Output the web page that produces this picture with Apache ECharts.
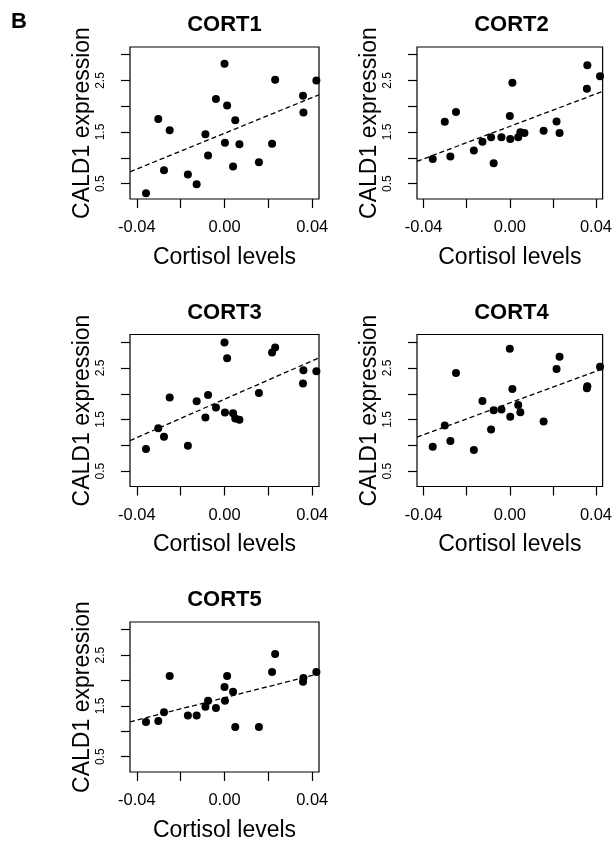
<!DOCTYPE html>
<html>
<head>
<meta charset="utf-8">
<script src="https://cdn.jsdelivr.net/npm/echarts@6/dist/echarts.min.js"></script>
<style>
html,body{margin:0;padding:0;background:#fff;}
#chart{width:615px;height:843px;}
</style>
</head>
<body>
<div id="chart"></div>
<script>
// Shared cortisol levels (x) for every panel
const cortisol = [-0.0358, -0.0302, -0.0276, -0.0250, -0.0167, -0.0127, -0.0087, -0.0075, -0.0039,
  0.0000, 0.0002, 0.0012, 0.0039, 0.0049, 0.0068, 0.0157, 0.0217, 0.0231, 0.0358, 0.0360, 0.0419];

// CALD1 expression per panel (null = point hidden behind another dot)
const cort1 = [0.313, 1.752, 0.758, 1.532, 0.674, 0.487, 1.455, 1.042, 2.139,
  2.823, 1.294, 2.016, 0.829, 1.726, 1.261, 0.913, 1.274, 2.513, 2.203, 1.881, 2.500];
const cort2 = [0.977, 1.700, 1.023, 1.887, 1.139, 1.313, 1.397, 0.894, 1.397,
  1.810, 1.365, 2.455, 1.397, 1.494, 1.480, 1.526, 1.706, 1.480, 2.339, 2.797, 2.584];
const cort3 = [0.926, 1.332, 1.165, 1.926, 0.990, 1.855, 1.539, 1.977, 1.732,
  2.997, 1.635, 2.687, 1.623, 1.519, 1.494, 2.016, 2.803, 2.900, 2.197, 2.455, 2.435];
const cort4 = [0.971, 1.384, 1.081, 2.403, 0.906, 1.861, 1.306, 1.681, 1.694,
  2.874, 1.552, 2.094, 1.784, 1.642, null, 1.461, 2.481, 2.719, 2.106, 2.145, 2.526];
const cort5 = [1.182, 1.201, 1.375, 2.088, 1.310, 1.310, 1.484, 1.600, 1.458,
  1.870, 1.600, 2.088, 1.780, 1.085, null, 1.085, 2.166, 2.519, 1.973, 2.050, 2.166];

const panelTitles = ['CORT1', 'CORT2', 'CORT3', 'CORT4', 'CORT5'];
const panelValues = [cort1, cort2, cort3, cort4, cort5];

const xTickValues = [-0.04, -0.02, 0, 0.02, 0.04];
const xLabelValues = [-0.04, 0, 0.04];
const yTickValues = [0.5, 1.0, 1.5, 2.0, 2.5, 3.0];
const yLabelValues = [0.5, 1.5, 2.5];

const xLabelText = 'Cortisol levels';
const yLabelText = 'CALD1 expression';
const panelLetter = 'B';

// layout
const X_MIN = -0.0431, X_MAX = 0.0431, Y_MIN = 0.2, Y_MAX = 3.15;
const gridPos = [[130, 47], [417, 47], [130, 334.5], [417, 334.5], [130, 622]];
const GW = 189, GH = 152;
const FONT = '"Liberation Sans", Arial, sans-serif';

function fit(xv, yv) {
  let n = 0, sx = 0, sy = 0, sxx = 0, sxy = 0;
  for (let i = 0; i < xv.length; i++) {
    if (yv[i] == null) continue;
    n++; sx += xv[i]; sy += yv[i]; sxx += xv[i] * xv[i]; sxy += xv[i] * yv[i];
  }
  const b = (n * sxy - sx * sy) / (n * sxx - sx * sx);
  const a = (sy - b * sx) / n;
  return [a, b];
}

const grids = [], xAxes = [], yAxes = [], series = [], titles = [];
panelValues.forEach((vals, i) => {
  const [gl, gt] = gridPos[i];
  grids.push({left: gl, top: gt, width: GW, height: GH, show: true,
    borderColor: '#000', borderWidth: 1.2, backgroundColor: 'transparent'});
  xAxes.push({
    type: 'value', gridIndex: i, min: X_MIN, max: X_MAX, position: 'bottom',
    axisLine: {show: false, onZero: false}, splitLine: {show: false},
    axisTick: {show: true, inside: false, length: 9, customValues: xTickValues,
      lineStyle: {color: '#000', width: 1.2}},
    axisLabel: {show: true, customValues: xLabelValues, margin: 20, color: '#000',
      fontSize: 16.5, fontFamily: FONT, formatter: v => v.toFixed(2)},
    name: xLabelText, nameLocation: 'middle', nameGap: 47,
    nameTextStyle: {fontSize: 23, color: '#000', fontFamily: FONT}
  });
  yAxes.push({
    type: 'value', gridIndex: i, min: Y_MIN, max: Y_MAX, position: 'left',
    axisLine: {show: false, onZero: false}, splitLine: {show: false},
    axisTick: {show: true, inside: false, length: 9, customValues: yTickValues,
      lineStyle: {color: '#000', width: 1.2}},
    axisLabel: {show: true, customValues: yLabelValues, rotate: 90, margin: 23, color: '#000',
      fontSize: 12, fontFamily: FONT, formatter: v => v.toFixed(1)},
    name: yLabelText, nameLocation: 'middle', nameGap: 36, nameRotate: 90,
    nameTextStyle: {fontSize: 23, color: '#000', fontFamily: FONT}
  });
  titles.push({text: panelTitles[i], left: gl + GW / 2, top: gt - 33, textAlign: 'center', padding: 0,
    textStyle: {fontSize: 22, fontWeight: 'bold', color: '#000', fontFamily: FONT, lineHeight: 22}});
  const pts = [];
  cortisol.forEach((x, j) => { if (vals[j] != null) pts.push([x, vals[j]]); });
  series.push({type: 'scatter', xAxisIndex: i, yAxisIndex: i, data: pts, symbol: 'circle',
    symbolSize: 8, itemStyle: {color: '#000', opacity: 1}, z: 3, silent: true});
  const [a, b] = fit(cortisol, vals);
  series.push({type: 'line', xAxisIndex: i, yAxisIndex: i, symbol: 'none', silent: true, z: 2,
    data: [[X_MIN, a + b * X_MIN], [X_MAX, a + b * X_MAX]],
    lineStyle: {color: '#000', width: 1.3, type: [5, 3]}, clip: true});
});
titles.push({text: panelLetter, left: 11, top: 11, padding: 0,
  textStyle: {fontSize: 22, fontWeight: 'bold', color: '#000', fontFamily: FONT, lineHeight: 22}});

const chart = echarts.init(document.getElementById('chart'), null, {renderer: 'canvas'});
chart.setOption({
  backgroundColor: '#fff', animation: false,
  title: titles, grid: grids, xAxis: xAxes, yAxis: yAxes, series: series
});
</script>
</body>
</html>
